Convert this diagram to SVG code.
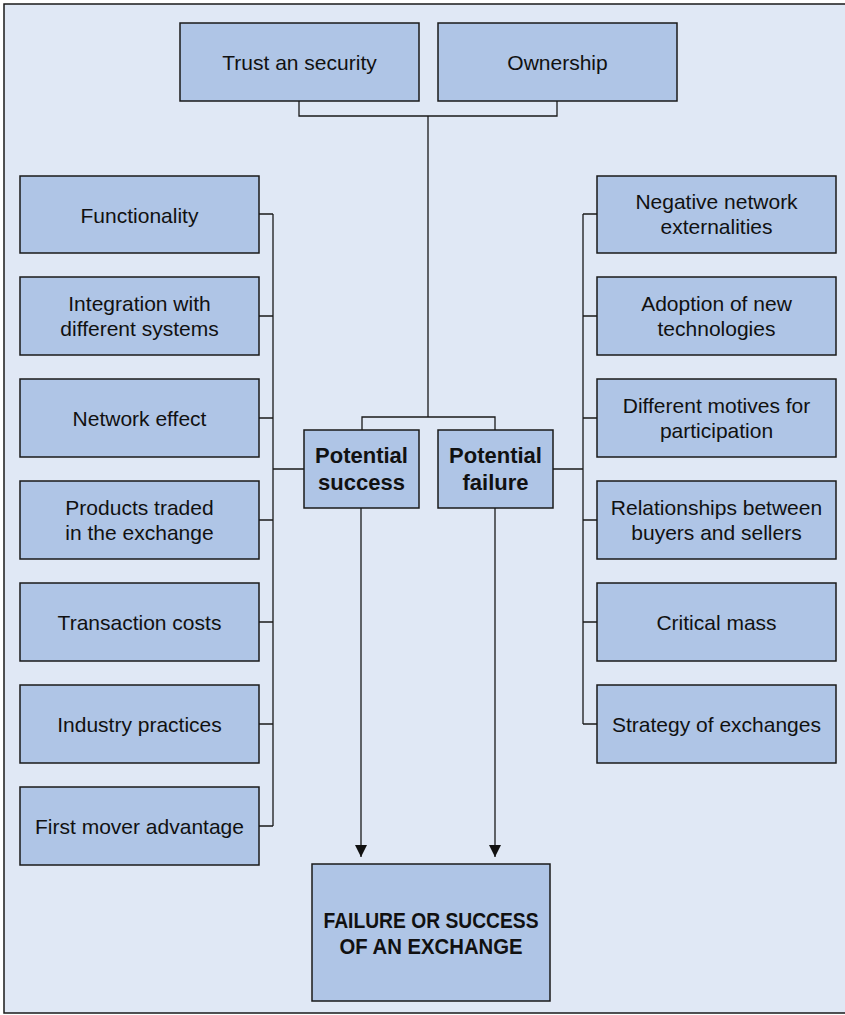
<svg xmlns="http://www.w3.org/2000/svg" width="845" height="1015" viewBox="0 0 845 1015">
<defs>
<style>
.bg{fill:#e0e8f5;stroke:#1a1a1a;stroke-width:1.5}
.box{fill:#afc5e6;stroke:#1a1a1a;stroke-width:1.5}
.t{font-family:"Liberation Sans",Arial,sans-serif;font-size:21px;fill:#111;text-anchor:middle}
.b{font-weight:bold;font-size:22px}
.ln{fill:none;stroke:#1a1a1a;stroke-width:1.3}
</style>
<marker id="ah" viewBox="0 0 12 16" refX="12" refY="6" markerWidth="12" markerHeight="16" markerUnits="userSpaceOnUse" orient="auto">
<path d="M0,0 L12,6 L0,12 Z" fill="#111"/>
</marker>
</defs>
<rect class="bg" x="4" y="4" width="860" height="1009"/>
<g id="connectors">
<path class="ln" d="M299,101 V116 H557 V101 M428,116 V417 M362,430 V417 H495 V430"/>
<path class="ln" d="M259,214 H273 M259,316 H273 M259,418 H273 M259,520 H273 M259,622 H273 M259,724 H273 M259,826 H273 M273,214 V826 M273,469 H304"/>
<path class="ln" d="M597,214 H583 M597,316 H583 M597,418 H583 M597,520 H583 M597,622 H583 M597,724 H583 M583,214 V724 M583,469 H553"/>
<path class="ln" d="M361,508 V857" marker-end="url(#ah)"/>
<path class="ln" d="M495,508 V857" marker-end="url(#ah)"/>
</g>
<g id="trust"><rect class="box" x="180" y="23" width="239" height="78"/><text class="t" x="299.5" y="70">Trust an security</text></g>
<g id="ownership"><rect class="box" x="438" y="23" width="239" height="78"/><text class="t" x="557.5" y="70">Ownership</text></g>
<g id="functionality"><rect class="box" x="20" y="176" width="239" height="77"/><text class="t" x="139.5" y="223">Functionality</text></g>
<g id="integration"><rect class="box" x="20" y="277" width="239" height="78"/><text class="t" x="139.5" y="311">Integration with</text><text class="t" x="139.5" y="336">different systems</text></g>
<g id="network-effect"><rect class="box" x="20" y="379" width="239" height="78"/><text class="t" x="139.5" y="426">Network effect</text></g>
<g id="products"><rect class="box" x="20" y="481" width="239" height="78"/><text class="t" x="139.5" y="515">Products traded</text><text class="t" x="139.5" y="540">in the exchange</text></g>
<g id="transaction"><rect class="box" x="20" y="583" width="239" height="78"/><text class="t" x="139.5" y="630">Transaction costs</text></g>
<g id="industry"><rect class="box" x="20" y="685" width="239" height="78"/><text class="t" x="139.5" y="732">Industry practices</text></g>
<g id="first-mover"><rect class="box" x="20" y="787" width="239" height="78"/><text class="t" x="139.5" y="834">First mover advantage</text></g>
<g id="negative"><rect class="box" x="597" y="176" width="239" height="77"/><text class="t" x="716.5" y="209">Negative network</text><text class="t" x="716.5" y="234">externalities</text></g>
<g id="adoption"><rect class="box" x="597" y="277" width="239" height="78"/><text class="t" x="716.5" y="311">Adoption of new</text><text class="t" x="716.5" y="336">technologies</text></g>
<g id="motives"><rect class="box" x="597" y="379" width="239" height="78"/><text class="t" x="716.5" y="413">Different motives for</text><text class="t" x="716.5" y="438">participation</text></g>
<g id="relationships"><rect class="box" x="597" y="481" width="239" height="78"/><text class="t" x="716.5" y="515">Relationships between</text><text class="t" x="716.5" y="540">buyers and sellers</text></g>
<g id="critical-mass"><rect class="box" x="597" y="583" width="239" height="78"/><text class="t" x="716.5" y="630">Critical mass</text></g>
<g id="strategy"><rect class="box" x="597" y="685" width="239" height="78"/><text class="t" x="716.5" y="732">Strategy of exchanges</text></g>
<g id="potential-success"><rect class="box" x="304" y="430" width="115" height="78"/><text class="t b" x="361.5" y="463">Potential</text><text class="t b" x="361.5" y="490">success</text></g>
<g id="potential-failure"><rect class="box" x="438" y="430" width="115" height="78"/><text class="t b" x="495.5" y="463">Potential</text><text class="t b" x="495.5" y="490">failure</text></g>
<g id="outcome"><rect class="box" x="312" y="864" width="238" height="137"/><text class="t b" x="431" y="928" textLength="215" lengthAdjust="spacingAndGlyphs">FAILURE OR SUCCESS</text><text class="t b" x="431" y="954" textLength="183" lengthAdjust="spacingAndGlyphs">OF AN EXCHANGE</text></g>
</svg>
